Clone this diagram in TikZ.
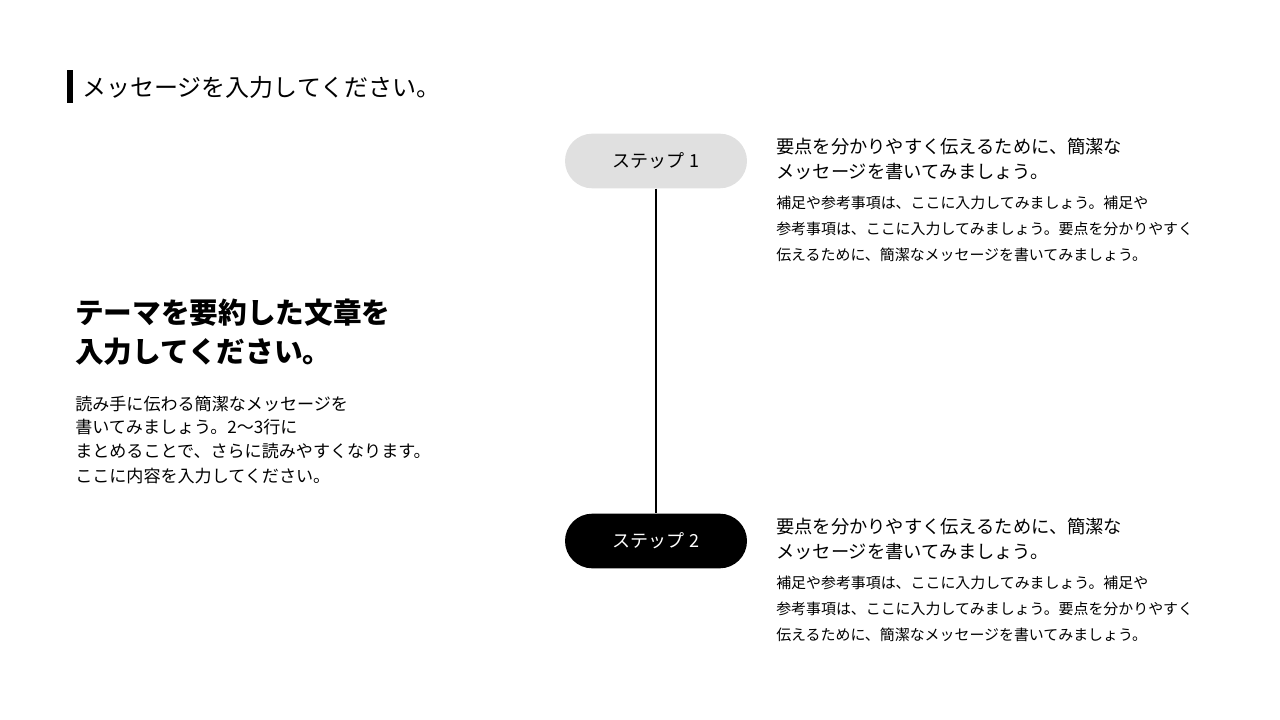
\documentclass[tikz,border=0pt]{standalone}
\usepackage{fontspec}
\setmainfont{Noto Sans CJK JP}
\begin{document}
\begin{tikzpicture}[x=0.75pt,y=-0.75pt,
  ln/.style={anchor=west,inner sep=0pt},
  tt/.style={ln,font=\fontsize{18}{18}\selectfont},
  hd/.style={ln,font=\fontsize{21.5}{21.5}\selectfont\bfseries},
  bd/.style={ln,font=\fontsize{12.8}{12.8}\selectfont},
  mh/.style={ln,font=\fontsize{13.7}{13.7}\selectfont},
  sm/.style={ln,font=\fontsize{11.2}{11.2}\selectfont},
  pill/.style={rounded corners=20.5pt,minimum width=136.5pt,minimum height=41pt,inner sep=0pt,font=\fontsize{13.5}{13.5}\selectfont}]
\useasboundingbox (0,0) rectangle (1280,720);
\fill (67,70) rectangle (73,103);
\node[tt] (t) at (82,87) {メッセージを入力してください。};
\node[hd] (h1) at (75,313) {テーマを要約した文章を};
\node[hd] (h2) at (75,352) {入力してください。};
\node[bd] (b1) at (75,404) {読み手に伝わる簡潔なメッセージを};
\node[bd] (b2) at (75,427) {書いてみましょう。2〜3行に};
\node[bd] (b3) at (75,451) {まとめることで、さらに読みやすくなります。};
\node[bd] (b4) at (75,476) {ここに内容を入力してください。};
\node[pill,fill={rgb,255:red,224;green,224;blue,224}] (s1) at (656,161) {ステップ 1};
\node[pill,fill=black,text=white] (s2) at (656,541) {ステップ 2};
\draw[line width=1.5pt] (s1.south) -- (s2.north);
\foreach \y/\n in {0/a,380/b}{
\node[mh] (m1\n) at (776,147+\y) {要点を分かりやすく伝えるために、簡潔な};
\node[mh] (m2\n) at (776,172+\y) {メッセージを書いてみましょう。};
\node[sm] (p1\n) at (776,203+\y) {補足や参考事項は、ここに入力してみましょう。補足や};
\node[sm] (p2\n) at (776,229+\y) {参考事項は、ここに入力してみましょう。要点を分かりやすく};
\node[sm] (p3\n) at (776,255+\y) {伝えるために、簡潔なメッセージを書いてみましょう。};
}
\end{tikzpicture}
\end{document}
